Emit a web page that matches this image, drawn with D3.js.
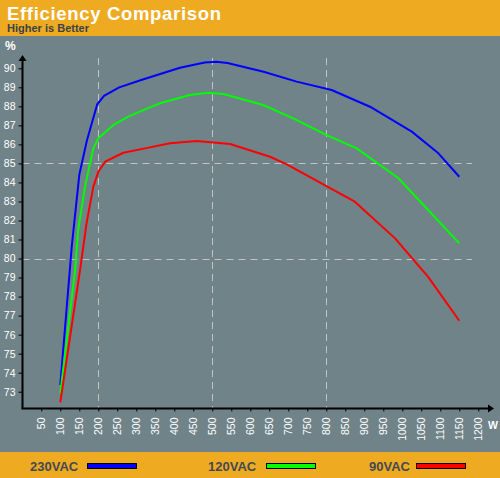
<!DOCTYPE html>
<html><head><meta charset="utf-8">
<script src="https://cdn.jsdelivr.net/npm/d3@7"></script>
<style>body{margin:0;padding:0;}svg{display:block;}</style>
</head><body>
<script>
// ---- data ----
const seriesNames = ["230VAC", "120VAC", "90VAC"];
const seriesColors = ["#0000ff", "#00ff00", "#ff0000"];
const load230 = [100, 130, 150, 170, 197, 215, 255, 315, 415, 480, 510, 540, 635, 722, 814, 915, 1025, 1095, 1150];
const eff230  = [73.35, 80.6, 84.4, 86.2, 88.1, 88.55, 89.0, 89.4, 90.03, 90.3, 90.35, 90.28, 89.82, 89.3, 88.86, 87.98, 86.67, 85.53, 84.3];
const load120 = [100, 139, 147, 165, 187, 200, 240, 279, 323, 362, 441, 490, 529, 634, 713, 801, 880, 990, 1068, 1150];
const eff120  = [72.91, 79.4, 81.5, 83.78, 85.79, 86.32, 87.02, 87.46, 87.84, 88.16, 88.6, 88.72, 88.65, 88.07, 87.37, 86.49, 85.79, 84.22, 82.55, 80.8];
const load90  = [100, 152, 169, 187, 200, 218, 266, 323, 389, 459, 547, 652, 696, 875, 981, 1068, 1150];
const eff90   = [72.44, 79.4, 81.85, 83.78, 84.56, 85.09, 85.56, 85.79, 86.06, 86.18, 86.02, 85.35, 84.95, 82.99, 81.06, 79.04, 76.73];
const xTicks = d3.range(50, 1201, 50);
const yTicks = d3.range(73, 91, 1);
const xGrid = [200, 500, 800];
const yGrid = [80, 85];

const W = 500, H = 478;
const bg = "#6f8389", orange = "#eeab22";
const svg = d3.select("body").append("svg").attr("width", W).attr("height", H);
svg.append("rect").attr("width", W).attr("height", H).attr("fill", bg);
svg.append("rect").attr("width", W).attr("height", 36).attr("fill", orange);
svg.append("rect").attr("y", 452).attr("width", W).attr("height", 26).attr("fill", orange);

const font = "Liberation Sans, Arial, sans-serif";
svg.append("text").attr("x", 7).attr("y", 19.5).text("Efficiency Comparison")
  .attr("fill", "#fff").attr("font-family", font)
  .attr("font-weight", "bold").attr("font-size", 18.5)
  .attr("textLength", 214).attr("lengthAdjust", "spacing");
svg.append("text").attr("x", 7).attr("y", 32).text("Higher is Better")
  .attr("fill", "#3b4248").attr("font-family", font)
  .attr("font-weight", "bold").attr("font-size", 11)
  .attr("textLength", 82).attr("lengthAdjust", "spacing");

const x = d3.scaleLinear().domain([0, 1200]).range([22.3, 478.3]);
const y = d3.scaleLinear().domain([73, 90]).range([391.7, 68.3]);
const axisY = 408.5, axisX = 22.5;

// grid
const grid = svg.append("g").attr("stroke", "#c4c4c4").attr("stroke-width", 1).attr("stroke-dasharray", "7,5");
xGrid.forEach(v => grid.append("line").attr("x1", Math.round(x(v)) + 0.5).attr("x2", Math.round(x(v)) + 0.5)
  .attr("y1", 58).attr("y2", axisY));
yGrid.forEach(v => grid.append("line").attr("x1", axisX).attr("x2", 472)
  .attr("y1", Math.round(y(v)) + 0.5).attr("y2", Math.round(y(v)) + 0.5));

// y axis
const yAxis = d3.axisLeft(y).tickValues(yTicks).tickSize(4).tickPadding(3).tickFormat(d3.format("d"));
const gy = svg.append("g").attr("transform", `translate(${axisX},0)`).call(yAxis);
gy.select(".domain").remove();
gy.selectAll(".tick line").attr("stroke", "#000");
gy.selectAll("text").attr("fill", "#fff").attr("font-family", font).attr("font-size", 10.5);

// x axis
const xAxis = d3.axisBottom(x).tickValues(xTicks).tickSize(3).tickFormat(d3.format("d"));
const gx = svg.append("g").attr("transform", `translate(0,${axisY})`).call(xAxis);
gx.select(".domain").remove();
gx.selectAll(".tick line").attr("stroke", "#000");
gx.selectAll("text").attr("fill", "#fff").attr("font-family", font).attr("font-size", 10.5)
  .attr("transform", "rotate(-90)").attr("text-anchor", "end")
  .attr("x", -9).attr("y", 0).attr("dy", "0.35em");

// axis lines with arrows
svg.append("line").attr("x1", axisX).attr("x2", axisX).attr("y1", axisY).attr("y2", 59).attr("stroke", "#000").attr("stroke-width", 2);
svg.append("path").attr("d", `M${axisX - 4},${61} L${axisX},${55} L${axisX + 4},${61} Z`).attr("fill", "#000");
svg.append("line").attr("x1", axisX - 1).attr("x2", 490).attr("y1", axisY).attr("y2", axisY).attr("stroke", "#000").attr("stroke-width", 2);
svg.append("path").attr("d", `M488,${axisY - 4} L494,${axisY} L488,${axisY + 4} Z`).attr("fill", "#000");

svg.append("text").attr("x", 5).attr("y", 50).text("%").attr("fill", "#fff")
  .attr("font-family", font).attr("font-weight", "bold").attr("font-size", 12);
svg.append("text").attr("x", 488).attr("y", 429).text("W").attr("fill", "#fff")
  .attr("font-family", font).attr("font-weight", "bold").attr("font-size", 10.5);

// lines
const series = [
  load230.map((l, i) => [l, eff230[i]]),
  load120.map((l, i) => [l, eff120[i]]),
  load90.map((l, i) => [l, eff90[i]])
];
const line = d3.line().x(d => x(d[0])).y(d => y(d[1]));
series.forEach((s, i) => svg.append("path").attr("d", line(s)).attr("fill", "none")
  .attr("stroke", seriesColors[i]).attr("stroke-width", 2).attr("stroke-linejoin", "round"));

// legend
const legX = [30, 208, 369], swX = [87.5, 266.5, 416.5];
seriesNames.forEach((n, i) => {
  svg.append("text").attr("x", legX[i]).attr("y", 470.5).text(n).attr("fill", "#434a52")
    .attr("font-family", font).attr("font-weight", "bold").attr("font-size", 13);
  svg.append("rect").attr("x", swX[i]).attr("y", 463.5).attr("width", 49).attr("height", 5)
    .attr("fill", seriesColors[i]).attr("stroke", "#000").attr("stroke-width", 1);
});
</script>
</body></html>
